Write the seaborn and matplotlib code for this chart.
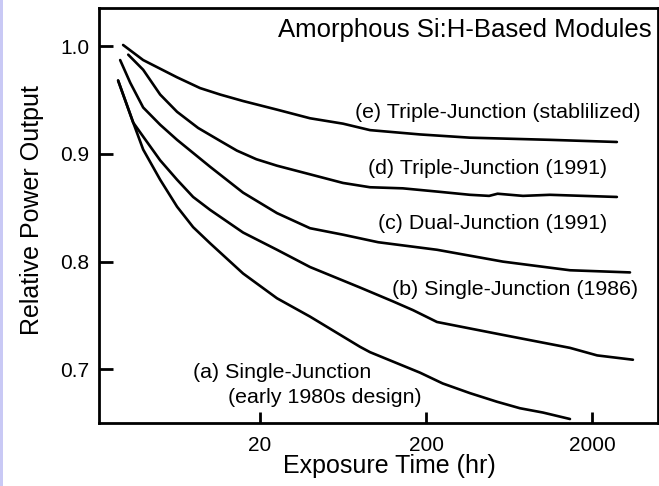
import matplotlib
matplotlib.use("Agg")
import matplotlib.pyplot as plt
import seaborn as sns
import pandas as pd
from matplotlib.patches import Rectangle

# ---- data ----
e_hours = [2.99, 3.95, 6.32, 8.70, 11.5, 15.8, 25.3, 40.0, 63.2, 92, 184, 368, 1115, 2826]
e_power = [1.001, 0.987, 0.971, 0.961, 0.955, 0.949, 0.941, 0.933, 0.928, 0.922, 0.918, 0.915, 0.913, 0.911]

d_hours = [3.21, 3.95, 5.0, 6.32, 8.47, 11.5, 14.5, 19.0, 25.3, 40.0, 63.2, 92, 145, 233, 368, 480, 540, 768, 1115, 2826]
d_power = [0.992, 0.978, 0.955, 0.939, 0.924, 0.912, 0.903, 0.895, 0.889, 0.881, 0.873, 0.869, 0.868, 0.865, 0.862, 0.861, 0.863, 0.861, 0.862, 0.860]

c_hours = [2.87, 3.30, 3.95, 5.0, 6.32, 10.0, 15.8, 25.3, 40.0, 63.2, 103, 233, 582, 1474, 3390]
c_power = [0.987, 0.966, 0.943, 0.927, 0.913, 0.888, 0.864, 0.845, 0.831, 0.825, 0.818, 0.811, 0.800, 0.792, 0.790]

b_hours = [2.79, 3.44, 3.95, 5.0, 6.32, 7.90, 10.0, 15.8, 25.3, 40.0, 80, 127, 167, 233, 368, 582, 1474, 2150, 3530]
b_power = [0.968, 0.929, 0.916, 0.894, 0.876, 0.860, 0.848, 0.827, 0.811, 0.795, 0.776, 0.763, 0.755, 0.744, 0.738, 0.732, 0.720, 0.713, 0.709]

a_hours = [2.79, 3.44, 3.95, 5.0, 6.32, 7.90, 10.0, 15.8, 25.3, 40.0, 80, 92, 184, 252, 368, 536, 736, 1013, 1474]
a_power = [0.968, 0.929, 0.904, 0.876, 0.851, 0.832, 0.817, 0.789, 0.766, 0.749, 0.721, 0.716, 0.697, 0.687, 0.678, 0.670, 0.664, 0.660, 0.654]

label_text = {
    "e": "(e) Triple-Junction (stablilized)",
    "d": "(d) Triple-Junction (1991)",
    "c": "(c) Dual-Junction (1991)",
    "b": "(b) Single-Junction (1986)",
}
a_label_1 = "(a) Single-Junction"
a_label_2 = "(early 1980s design)"
title_text = "Amorphous Si:H-Based Modules"
x_label = "Exposure Time (hr)"
y_label = "Relative Power Output"
x_ticks = [20, 200, 2000]
y_ticks = [0.7, 0.8, 0.9, 1.0]

frames = []
for name, hx, py in [("a", a_hours, a_power), ("b", b_hours, b_power),
                     ("c", c_hours, c_power), ("d", d_hours, d_power),
                     ("e", e_hours, e_power)]:
    frames.append(pd.DataFrame({"hours": hx, "power": py, "series": name}))
df = pd.concat(frames, ignore_index=True)

# ---- style ----
sns.set_style("ticks")
plt.rcParams["font.family"] = ["Liberation Sans", "DejaVu Sans"]
plt.rcParams["text.color"] = "black"
plt.rcParams["axes.labelcolor"] = "black"
plt.rcParams["xtick.color"] = "black"
plt.rcParams["ytick.color"] = "black"

fig = plt.figure(figsize=(6.59, 4.86), dpi=100)
fig.patch.set_facecolor("white")
fig.patches.append(Rectangle((0, 0), 3 / 659, 1, transform=fig.transFigure,
                             facecolor="#c9c9f5", edgecolor="none", zorder=0))
ax = fig.add_axes([99 / 659, 1 - 423 / 486, 559 / 659, 415 / 486])

sns.lineplot(data=df, x="hours", y="power", units="series", estimator=None,
             sort=False, color="black", linewidth=1.9, ax=ax, legend=False,
             solid_joinstyle="round", solid_capstyle="round")

ax.set_xscale("log")
ax.set_xlim(2.14, 5000)
ax.set_ylim(0.6503, 1.0353)
ax.set_xticks(x_ticks)
ax.set_xticklabels([str(t) for t in x_ticks])
ax.xaxis.set_minor_locator(matplotlib.ticker.NullLocator())
ax.set_yticks(y_ticks)
ax.set_yticklabels([f"{t:.1f}" for t in y_ticks])

for s in ax.spines.values():
    s.set_linewidth(2.0)
    s.set_color("black")
ax.tick_params(axis="y", direction="in", length=10, width=2, labelsize=15, pad=7)
ax.tick_params(axis="x", direction="in", length=8, width=2, labelsize=15, pad=9)

ax.set_xlabel(x_label, fontsize=18, va="center")
ax.xaxis.set_label_coords(0.519, -0.104)
ax.set_ylabel(y_label, fontsize=18, va="center")
ax.yaxis.set_label_coords(-0.12, 0.513)

fs = 15.4
ax.text(4580, 1.0148, title_text, fontsize=18.5, ha="right", va="center")
ax.text(74.7, 0.9388, label_text["e"], fontsize=fs, ha="left", va="center")
ax.text(89.6, 0.8868, label_text["d"], fontsize=fs, ha="left", va="center")
ax.text(102.8, 0.8358, label_text["c"], fontsize=fs, ha="left", va="center")
ax.text(124.8, 0.7737, label_text["b"], fontsize=fs, ha="left", va="center")
ax.text(7.9, 0.6976, a_label_1, fontsize=fs, ha="left", va="center")
ax.text(12.8, 0.6735, a_label_2, fontsize=fs, ha="left", va="center")

fig.savefig("out.png", dpi=100)
